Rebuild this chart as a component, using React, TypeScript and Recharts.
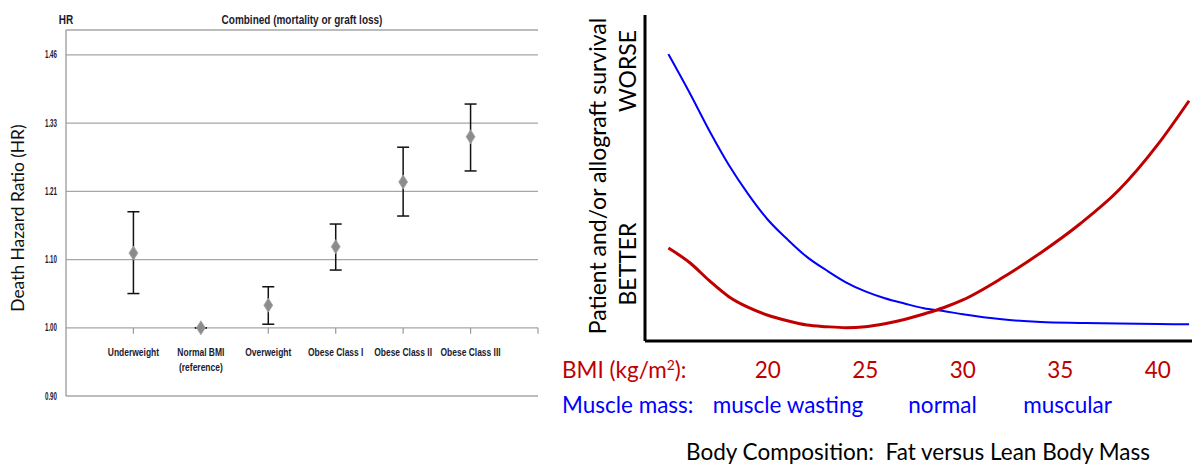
import React from 'react';
import {
  ComposedChart,
  Scatter,
  ErrorBar,
  XAxis,
  YAxis,
  CartesianGrid,
  LineChart,
  Line,
} from 'recharts';

// ---- left panel: hazard ratios by BMI class ----
const bmiClasses = ['Underweight', 'Normal BMI\n(reference)', 'Overweight', 'Obese Class I', 'Obese Class II', 'Obese Class III'];
const hazardRatio = [1.11, 1.0, 1.032, 1.12, 1.226, 1.306];
const ciLower = [1.049, 1.0, 1.005, 1.084, 1.169, 1.245];
const ciUpper = [1.176, 1.0, 1.059, 1.156, 1.287, 1.367];
const hrTicks = [1 / 1.1, 1, 1.1, 1.21, 1.331, 1.4641];
const hrTickLabels = ['0.90', '1.00', '1.10', '1.21', '1.33', '1.46'];
const categoryTickPos = [1, 2, 3, 4, 5, 6, 7];

// ---- right panel: schematic survival curves ----
const bmiGrid = [14.9, 16, 17, 18, 19, 20, 21, 22, 23, 24, 25, 26, 27, 28, 29, 30, 32, 34, 36, 38, 40, 41.6];
const fatRisk = [28.5, 24, 18.5, 13.6, 10.3, 7.9, 6.2, 4.9, 4.4, 4.1, 4.4, 5.3, 6.6, 8.3, 10.2, 12.6, 19.3, 27.1, 35.9, 46.3, 60.3, 73.7];
const leanRisk = [88, 76, 64.5, 54, 45, 37.2, 31.2, 25.8, 21.7, 18, 15.2, 13.1, 11.5, 10.05, 9.2, 8.2, 6.65, 5.85, 5.55, 5.33, 5.2, 5.1];
const bmiTicks = [20, 25, 30, 35, 40];
const muscleTicks = [21.03, 28.96, 35.37];
const muscleLabels = ['muscle wasting', 'normal', 'muscular'];

const hrData = bmiClasses.map((name, i) => ({
  x: i + 1,
  hr: hazardRatio[i],
  err: [hazardRatio[i] - ciLower[i], ciUpper[i] - hazardRatio[i]],
}));
const categoryData = categoryTickPos.map((x, i) => ({ x, y: 1, label: bmiClasses[i] || '' }));
const curveData = bmiGrid.map((bmi, i) => ({ bmi, fat: fatRisk[i], lean: leanRisk[i] }));
const bottomTicks = [...bmiTicks, ...muscleTicks].sort((a, b) => a - b);

// Arial-Narrow look: Liberation Sans bold squeezed horizontally
const arial = "'Liberation Sans', Arial, sans-serif";
const humanist = "Lato, 'Open Sans', sans-serif";
const RED = '#c00000';
const BLUE = '#0000ff';
const INK = '#1a1a30';

const NarrowText = ({ x, y, size, squeeze, anchor, children }: any) => (
  <g transform={`translate(${x},${y}) scale(${squeeze},1)`}>
    <text x={0} y={0} textAnchor={anchor} fontFamily={arial} fontWeight="bold" fontSize={size} fill={INK}>
      {children}
    </text>
  </g>
);

const Diamond = (props: any) => {
  const { cx, cy } = props;
  return (
    <polygon
      points={`${cx},${cy - 7} ${cx + 4.5},${cy} ${cx},${cy + 7} ${cx - 4.5},${cy}`}
      fill="#8c8c8c"
      stroke="#a8a8a8"
      strokeWidth={0.8}
    />
  );
};

const CategoryTick = (props: any) => {
  const { cx, cy, payload } = props;
  const lines = String(payload.label).split('\n');
  return (
    <g>
      <line x1={cx} y1={cy} x2={cx} y2={cy + 6} stroke="#9a9a9a" strokeWidth={1.2} />
      {lines.map((t: string, i: number) => (
        <NarrowText key={i} x={cx} y={cy + 28 + i * 15} size={10.6} squeeze={0.8} anchor="middle">
          {t}
        </NarrowText>
      ))}
    </g>
  );
};

const HrTick = (props: any) => {
  const { x, y, payload } = props;
  const idx = hrTicks.findIndex((t) => Math.abs(t - payload.value) < 1e-6);
  return (
    <NarrowText x={x} y={y + 3.5} size={10} squeeze={0.62} anchor="end">
      {hrTickLabels[idx] ?? ''}
    </NarrowText>
  );
};

const HazardPanel = () => (
  <ComposedChart width={560} height={467} margin={{ top: 30, right: 22, bottom: 71, left: 0 }}>
    <CartesianGrid vertical={false} stroke="#a6a6a6" strokeWidth={1.3} />
    <XAxis type="number" dataKey="x" domain={[0, 7]} hide />
    <YAxis
      type="number"
      scale="log"
      domain={[1 / 1.1, 1.516]}
      ticks={hrTicks}
      allowDataOverflow
      width={66}
      tickLine={false}
      tickSize={0}
      tickMargin={9}
      axisLine={{ stroke: '#9a9a9a', strokeWidth: 1.3 }}
      tick={<HrTick />}
    />
    <Scatter data={categoryData} dataKey="y" shape={CategoryTick} isAnimationActive={false} />
    <Scatter data={hrData} dataKey="hr" shape={Diamond} isAnimationActive={false}>
      <ErrorBar dataKey="err" direction="y" width={6} stroke="#111" strokeWidth={1.5} />
    </Scatter>
  </ComposedChart>
);

const BottomTick = (props: any) => {
  const { x, y, payload } = props;
  const v = payload.value;
  if (bmiTicks.includes(v)) {
    return (
      <text x={x} y={y + 37} textAnchor="middle" fontFamily={humanist} fontSize={22.5} fill={RED}>
        {v}
      </text>
    );
  }
  return (
    <text x={x} y={y + 72} textAnchor="middle" fontFamily={humanist} fontSize={22.5} fill={BLUE}>
      {muscleLabels[muscleTicks.indexOf(v)] ?? ''}
    </text>
  );
};

const CompositionPanel = () => (
  <LineChart width={637} height={467} data={curveData} margin={{ top: 15, right: 5, bottom: 46, left: 0 }}>
    <XAxis
      type="number"
      dataKey="bmi"
      domain={[13.7, 41.75]}
      ticks={bottomTicks}
      interval={0}
      allowDataOverflow
      height={80}
      tickSize={0}
      tickMargin={0}
      tickLine={false}
      axisLine={{ stroke: '#000', strokeWidth: 3 }}
      tick={<BottomTick />}
    />
    <YAxis
      type="number"
      domain={[0, 100]}
      allowDataOverflow
      width={85}
      tick={false}
      tickLine={false}
      axisLine={{ stroke: '#000', strokeWidth: 3 }}
    />
    <Line type="monotone" dataKey="lean" stroke={BLUE} strokeWidth={2} dot={false} isAnimationActive={false} />
    <Line type="monotone" dataKey="fat" stroke={RED} strokeWidth={3} dot={false} isAnimationActive={false} />
  </LineChart>
);

export default function App() {
  return (
    <div style={{ position: 'absolute', left: 0, top: 0, width: 1197, height: 467, background: '#fff', overflow: 'hidden' }}>
      <div style={{ position: 'absolute', left: 0, top: 0 }}>
        <HazardPanel />
      </div>
      <div style={{ position: 'absolute', left: 560, top: 0 }}>
        <CompositionPanel />
      </div>
      <svg width={1197} height={467} style={{ position: 'absolute', left: 0, top: 0, pointerEvents: 'none' }}>
        <NarrowText x={66} y={24} size={12.5} squeeze={0.8} anchor="middle">HR</NarrowText>
        <NarrowText x={302} y={24} size={12.5} squeeze={0.8} anchor="middle">Combined (mortality or graft loss)</NarrowText>
        <text
          x={24}
          y={218}
          transform="rotate(-90 24 218)"
          textAnchor="middle"
          fontFamily={humanist}
          fontSize={17.4}
          fill="#111"
        >
          Death Hazard Ratio (HR)
        </text>
        <g fontFamily={humanist} fontSize={23} fill="#000" textAnchor="middle">
          <text x={606} y={176} transform="rotate(-90 606 176)">Patient and/or allograft survival</text>
          <text x={636} y={71} transform="rotate(-90 636 71)">WORSE</text>
          <text x={636} y={264} transform="rotate(-90 636 264)">BETTER</text>
        </g>
        <text x={562} y={378} fontFamily={humanist} fontSize={22.5} fill={RED}>
          BMI (kg/m<tspan dy={-8} fontSize={14}>2</tspan>
          <tspan dy={8}>):</tspan>
        </text>
        <text x={562} y={413} fontFamily={humanist} fontSize={22.5} fill={BLUE}>
          Muscle mass:
        </text>
        <text x={918} y={460} textAnchor="middle" fontFamily={humanist} fontSize={22.5} fill="#000" style={{ whiteSpace: 'pre' }}>
          Body Composition:  Fat versus Lean Body Mass
        </text>
      </svg>
    </div>
  );
}
